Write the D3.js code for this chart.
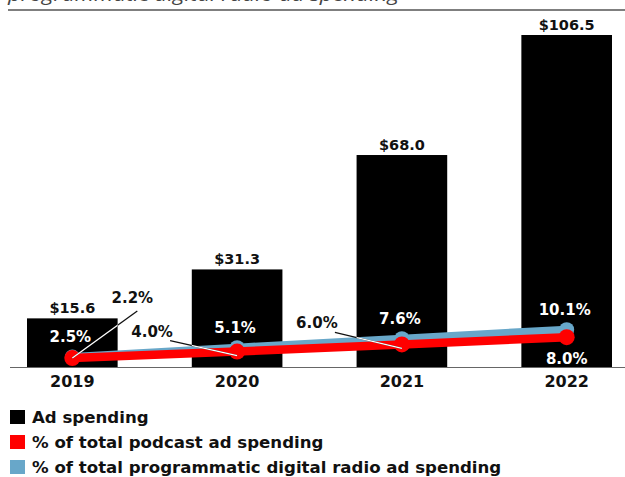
<!DOCTYPE html>
<html>
<head>
<meta charset="utf-8">
<script src="https://cdn.jsdelivr.net/npm/d3@7"></script>
<style>
  body { margin: 0; background: #fff; }
  svg text { font-family: "DejaVu Sans", Verdana, sans-serif; font-weight: bold; }
</style>
</head>
<body>
<script>
// data
var years = ["2019", "2020", "2021", "2022"];
var adSpending = [15.6, 31.3, 68.0, 106.5];
var podcastShare = [2.2, 4.0, 6.0, 8.0];
var programmaticShare = [2.5, 5.1, 7.6, 10.1];
var legendLabels = ["Ad spending", "% of total podcast ad spending", "% of total programmatic digital radio ad spending"];

var W = 625, H = 477;
var black = "#000", red = "#ff0000", blue = "#68a7c9";

var svg = d3.select("body").append("svg")
    .attr("width", W)
    .attr("height", H);

// title runs off the top edge, as in the original crop
svg.append("text")
    .attr("x", 8)
    .attr("y", 1)
    .attr("textLength", 391)
    .attr("lengthAdjust", "spacingAndGlyphs")
    .style("font-family", "'Open Sans', sans-serif")
    .style("font-weight", "normal")
    .style("font-style", "italic")
    .style("font-size", "18px")
    .attr("fill", "#444")
    .text("programmatic digital radio ad spending");

svg.append("line")
    .attr("x1", 8).attr("x2", W)
    .attr("y1", 10).attr("y2", 10)
    .attr("stroke", "#555")
    .attr("stroke-width", 1.5);

// scales
var x = d3.scaleBand()
    .domain(years)
    .range([27, 612])
    .paddingInner(0.45)
    .paddingOuter(0);

var y = d3.scaleLinear()
    .domain([0, 106.5])
    .range([367, 35]);

var yPct = d3.scaleLinear()
    .domain([0, 10])
    .range([366, 330]);

var cx = function(d) { return x(d) + x.bandwidth() / 2; };

// bars (same rects reused as clip for the white part of leader lines)
svg.append("defs").append("clipPath")
    .attr("id", "barclip")
    .selectAll("rect")
    .data(years)
    .enter()
    .append("rect")
    .attr("x", function(d) { return x(d); })
    .attr("y", function(d, i) { return y(adSpending[i]); })
    .attr("width", x.bandwidth())
    .attr("height", function(d, i) { return y(0) - y(adSpending[i]); });

svg.selectAll(".bar")
    .data(years)
    .enter()
    .append("rect")
    .attr("class", "bar")
    .attr("x", function(d) { return x(d); })
    .attr("y", function(d, i) { return y(adSpending[i]); })
    .attr("width", x.bandwidth())
    .attr("height", function(d, i) { return y(0) - y(adSpending[i]); })
    .attr("fill", black);

svg.selectAll(".barlabel")
    .data(years)
    .enter()
    .append("text")
    .attr("class", "barlabel")
    .attr("x", cx)
    .attr("y", function(d, i) { return y(adSpending[i]) - 5; })
    .attr("text-anchor", "middle")
    .attr("fill", "#111")
    .style("font-size", "14.5px")
    .text(function(d, i) { return "$" + adSpending[i].toFixed(1); });

// baseline + year axis
svg.append("line")
    .attr("x1", 10).attr("x2", W)
    .attr("y1", y(0) + 0.5).attr("y2", y(0) + 0.5)
    .attr("stroke", "#666")
    .attr("stroke-width", 1.2);

var axis = svg.append("g")
    .attr("transform", "translate(0," + y(0) + ")")
    .call(d3.axisBottom(x).tickSize(0).tickPadding(9));
axis.select(".domain").remove();
axis.selectAll("text")
    .style("font-size", "16px")
    .style("font-family", "'DejaVu Sans', sans-serif")
    .style("font-weight", "bold")
    .attr("fill", "#111");

// lines
var line = d3.line()
    .x(function(d) { return cx(d.year); })
    .y(function(d) { return yPct(d.v); });

var progPts = years.map(function(d, i) { return {year: d, v: programmaticShare[i]}; });
var podPts = years.map(function(d, i) { return {year: d, v: podcastShare[i]}; });

svg.append("path")
    .datum(progPts)
    .attr("d", line)
    .attr("fill", "none")
    .attr("stroke", blue)
    .attr("stroke-width", 8);

svg.selectAll(".progdot")
    .data(progPts)
    .enter()
    .append("circle")
    .attr("class", "progdot")
    .attr("cx", function(d) { return cx(d.year); })
    .attr("cy", function(d) { return yPct(d.v); })
    .attr("r", 7.5)
    .attr("fill", blue);

svg.append("path")
    .datum(podPts)
    .attr("d", line)
    .attr("fill", "none")
    .attr("stroke", red)
    .attr("stroke-width", 8.5);

svg.selectAll(".poddot")
    .data(podPts)
    .enter()
    .append("circle")
    .attr("class", "poddot")
    .attr("cx", function(d) { return cx(d.year); })
    .attr("cy", function(d) { return yPct(d.v); })
    .attr("r", 8)
    .attr("fill", red);

// programmatic labels above points (white on bars)
svg.selectAll(".proglabel")
    .data(progPts)
    .enter()
    .append("text")
    .attr("class", "proglabel")
    .attr("x", function(d) { return cx(d.year) - 2; })
    .attr("y", function(d) { return yPct(d.v) - 15; })
    .attr("text-anchor", "middle")
    .attr("fill", "#fff")
    .style("font-size", "15px")
    .text(function(d) { return d.v.toFixed(1) + "%"; });

// podcast labels: first three sit off to the side with leader lines
var podOffsets = [[60, -55], [-85, -15], [-85, -16]];
var leader = svg.append("g");
podPts.forEach(function(d, i) {
    var px = cx(d.year), py = yPct(d.v);
    if (i < 3) {
        var lx = px + podOffsets[i][0], ly = py + podOffsets[i][1];
        svg.append("text")
            .attr("x", lx)
            .attr("y", ly)
            .attr("text-anchor", "middle")
            .attr("fill", "#111")
            .style("font-size", "15px")
            .text(d.v.toFixed(1) + "%");
        var sx = i === 0 ? lx + 5 : lx + 18;
        var sy = i === 0 ? ly + 8 : ly + 4;
        var ey = py + (i === 0 ? 0 : 4);
        leader.append("line")
            .attr("x1", sx).attr("y1", sy)
            .attr("x2", px).attr("y2", ey)
            .attr("stroke", "#111")
            .attr("stroke-width", 1.3);
        leader.append("line")
            .attr("x1", sx).attr("y1", sy)
            .attr("x2", px).attr("y2", ey)
            .attr("stroke", "#fff")
            .attr("stroke-width", 1.3)
            .attr("clip-path", "url(#barclip)");
    } else {
        svg.append("text")
            .attr("x", px)
            .attr("y", py + 27)
            .attr("text-anchor", "middle")
            .attr("fill", "#fff")
            .style("font-size", "15px")
            .text(d.v.toFixed(1) + "%");
    }
});

// legend
var legendColors = [black, red, blue];
var legend = svg.selectAll(".legend")
    .data(legendLabels)
    .enter()
    .append("g")
    .attr("class", "legend")
    .attr("transform", function(d, i) { return "translate(10," + (410 + i * 25) + ")"; });

legend.append("rect")
    .attr("width", 15)
    .attr("height", 14)
    .attr("fill", function(d, i) { return legendColors[i]; });

legend.append("text")
    .attr("x", 22)
    .attr("y", 12.5)
    .attr("fill", "#111")
    .style("font-size", "16.6px")
    .text(function(d) { return d; });
</script>
</body>
</html>
